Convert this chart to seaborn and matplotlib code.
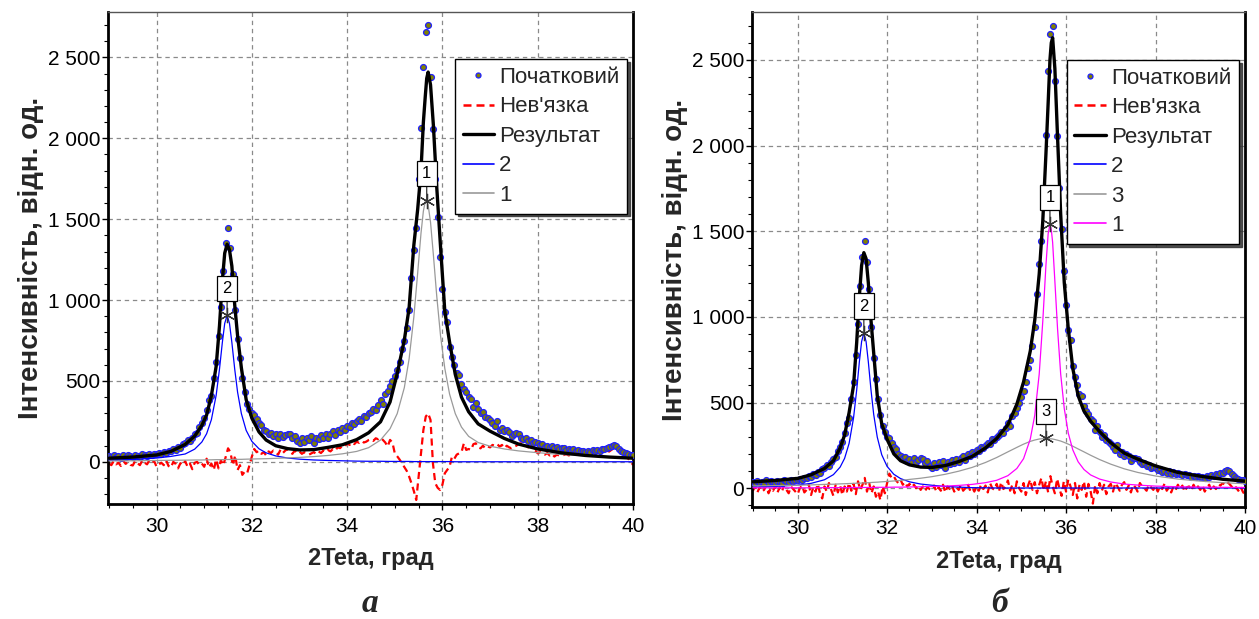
import matplotlib
matplotlib.use("Agg")
import matplotlib.pyplot as plt
import seaborn as sns
from matplotlib.ticker import MultipleLocator, FuncFormatter
from matplotlib.lines import Line2D

# ------------------------------------------------------------------ data
theta_start = 29.0
theta_step = 0.05

intensity = (
    [35, 28, 42, 30, 38, 25, 45, 33, 40, 36, 30, 44, 38, 32, 48, 40, 35, 50, 42, 46]
    + [50, 55, 48, 62, 58, 70, 66, 80, 75, 95, 88, 110, 120, 135, 130, 150, 170, 180, 215, 240]
    + [270, 320, 380, 410, 520, 620, 780, 960, 1180, 1350, 1445, 1320, 1160, 940, 760, 640, 520, 430, 360, 330]
    + [300, 290, 265, 240, 230, 200, 190, 175, 180, 160, 170, 150, 175, 155, 165, 175, 170, 145, 160, 130]
    + [120, 145, 125, 150, 135, 160, 120, 150, 140, 165, 145, 170, 150, 175, 190, 165, 200, 185, 210, 200]
    + [225, 215, 240, 235, 250, 265, 255, 285, 280, 300, 310, 330, 320, 350, 380, 360, 420, 440, 470, 500]
    + [530, 570, 620, 700, 750, 830, 938, 1136, 1309, 1444, 1750, 2062, 2438, 2654, 2697, 2377, 2056, 1750, 1512, 1265]
    + [1068, 926, 864, 712, 650, 600, 547, 537, 480, 450, 434, 403, 390, 340, 362, 330, 300, 310, 280, 270]
    + [260, 240, 225, 250, 198, 210, 190, 198, 185, 160, 175, 177, 170, 150, 140, 146, 130, 136, 120, 125]
    + [115, 105, 110, 95, 100, 90, 98, 85, 92, 80, 88, 84, 75, 82, 74, 78, 68, 72, 65, 70]
    + [64, 68, 60, 72, 66, 75, 70, 80, 78, 88, 90, 100, 105, 98, 80, 70, 60, 55, 50, 45, 43]
)

residual_a = (
    [-10, -20, 5, -15, -5, -25, 8, -12, -2, -18, -22, 6, -8, -20, 10, -5, -15, 12, -2, 4]
    + [-30, -15, -5, -20, 10, -25, -35, 0, -12, -40, -8, -20, 5, -30, -10, -45, -5, 0, -20, -10]
    + [-30, 20, -35, -10, -50, 15, -40, 10, -20, 30, 84, 60, -20, 40, -50, -20, -80, -60, -70, -20]
    + [33, 80, 60, 70, 50, 60, 40, 65, 55, 70, 60, 45, 75, 55, 70, 80, 65, 50, 70, 55]
    + [64, 50, 60, 55, 45, 53, 60, 50, 65, 55, 70, 60, 74, 65, 80, 70, 90, 85, 100, 95]
    + [115, 105, 120, 110, 125, 118, 130, 120, 125, 135, 140, 130, 146, 140, 150, 136, 120, 95, 136, 120]
    + [53, 35, 15, -8, -30, -55, -90, -132, -180, -235, -90, 60, 197, 280, 300, 259, -8, -132, -160, -173]
    + [-140, -70, -50, -29, 33, 20, 45, 53, 60, 115, 74, 80, 74, 110, 115, 90, 84, 100, 84, 95]
    + [90, 105, 100, 110, 95, 105, 85, 100, 90, 84, 95, 100, 110, 115, 105, 100, 90, 95, 80, 70]
    + [53, 60, 50, 45, 55, 40, 50, 33, 45, 40, 38, 43, 48, 40, 45, 50, 43, 48, 53, 50]
    + [53, 55, 50, 58, 60, 55, 62, 64, 58, 70, 64, 75, 85, 95, 80, 60, 43, 35, 20, 5, -19]
)

residual_b = (
    [-15, 10, -25, 5, -20, -10, 15, -30, 0, -15, 10, -25, 5, -20, 20, -10, -30, 10, -5, -20]
    + [-35, 0, 15, -25, -10, 20, -40, 5, -20, 25, -30, -60, 10, -20, 30, -10, -45, 20, -25, 15]
    + [-40, 10, -20, 30, -15, 25, -35, 40, -10, 20, 60, -20, 30, -30, 10, -50, -20, -70, 10, -30]
    + [30, 85, 60, 70, 45, 30, 50, 20, 35, 10, 25, 5, 20, 0, 15, -10, 10, -15, 5, -5]
    + [-10, 15, -20, 5, -15, 20, -25, 10, -5, 15, -20, 5, -10, 20, -15, 0, 25, -10, 5, -20]
    + [10, -15, 20, -5, 15, -25, 30, 0, -10, 25, -20, 35, -5, 10, 45, -15, 20, -30, 40, 0]
    + [-20, 30, -40, 15, 50, -10, 35, -30, 20, 60, -15, 40, -25, 70, 10, -30, 55, 0, -45, 40]
    + [-20, 50, 10, -40, 30, -60, 20, -10, 40, -50, 25, -20, -90, 15, -30, 30, -15, 20, -35, 10]
    + [25, -20, 30, 10, -15, 20, 35, -10, 15, -25, 20, 5, -20, 30, 10, 0, -15, 20, 5, -10]
    + [15, -20, 10, -5, 25, -15, 5, -25, 10, -10, 20, -5, 15, -20, 5, 10, -15, 20, -5, 10]
    + [-10, 15, -20, 5, 20, -15, 10, -5, 25, 15, 30, 20, 35, 25, 10, -10, 5, -15, 10, -20, -40]
)

theta = [round(theta_start + i * theta_step, 2) for i in range(len(intensity))]

curve_x = [29.0, 29.5, 30.0, 30.3, 30.6, 30.8, 30.95, 31.05, 31.15, 31.25,
           31.32, 31.38, 31.43, 31.48, 31.53, 31.58, 31.64, 31.7, 31.78, 31.88,
           32.0, 32.15, 32.3, 32.5, 32.75, 33.0, 33.3, 33.6, 33.9, 34.2,
           34.45, 34.7, 34.9, 35.05, 35.2, 35.3, 35.4, 35.48, 35.55, 35.6,
           35.64, 35.67, 35.7, 35.75, 35.81, 35.88, 35.96, 36.05, 36.15, 36.27,
           36.4, 36.55, 36.75, 37.0, 37.3, 37.6, 38.0, 38.5, 39.0, 39.5, 40.0]

# panel a
result_a = [23, 30, 43, 65, 108, 160, 225, 290, 410, 590,
            840, 1120, 1290, 1345, 1310, 1210, 970, 780, 580, 385,
            270, 185, 135, 100, 82, 74, 76, 90, 106, 138,
            180, 248, 370, 545, 753, 950, 1340, 1560, 1800, 2100,
            2260, 2370, 2409, 2330, 2080, 1700, 1330, 930, 740, 540,
            400, 310, 235, 190, 145, 110, 80, 56, 40, 30, 23]
peak2_a = [10, 15, 24, 34, 49, 79, 123, 174, 261, 411,
           573, 738, 856, 905, 856, 738, 573, 431, 298, 195,
           127, 81, 56, 37, 24, 17, 12, 9, 7, 5,
           4, 4, 3, 3, 3, 3, 2, 2, 2, 2,
           2, 2, 2, 2, 2, 2, 2, 2, 2, 1,
           1, 1, 1, 1, 1, 1, 1, 1, 1, 1, 1]
peak1_a = [6, 7, 9, 10, 11, 12, 12, 13, 13, 14,
           14, 14, 15, 15, 15, 15, 16, 16, 16, 17,
           18, 19, 20, 22, 25, 28, 33, 40, 50, 65,
           88, 135, 205, 298, 459, 636, 896, 1167, 1413, 1550,
           1610, 1615, 1587, 1481, 1279, 1026, 780, 577, 419, 298,
           215, 158, 120, 97, 80, 68, 57, 46, 38, 32, 27]

# panel b
result_b = [37, 45, 57, 78, 115, 160, 235, 310, 440, 600,
            850, 1120, 1300, 1375, 1340, 1200, 980, 790, 540, 375,
            285, 200, 160, 136, 123, 121, 132, 155, 185, 235,
            290, 370, 490, 620, 800, 980, 1250, 1560, 1950, 2250,
            2500, 2600, 2630, 2450, 2050, 1600, 1200, 930, 700, 540,
            450, 390, 330, 265, 205, 170, 130, 92, 70, 52, 41]
peak2_b = [6, 10, 18, 28, 49, 79, 123, 174, 261, 411,
           573, 738, 856, 905, 856, 738, 573, 431, 298, 195,
           127, 81, 56, 37, 24, 17, 10, 6, 3, 2,
           1, 1, 1, 1, 1, 1, 1, 1, 1, 1,
           1, 1, 1, 1, 1, 1, 1, 1, 1, 1,
           1, 1, 1, 1, 1, 1, 1, 1, 1, 1, 1]
peak3_b = [13, 15, 17, 19, 22, 23, 25, 26, 27, 28,
           29, 29, 30, 31, 31, 32, 33, 34, 35, 37,
           39, 42, 45, 51, 58, 67, 81, 99, 121, 150,
           179, 212, 238, 257, 273, 281, 287, 289, 290, 289,
           288, 288, 287, 284, 280, 275, 267, 257, 245, 229,
           212, 192, 167, 140, 113, 92, 71, 53, 41, 32, 26]
peak1_b = [2, 2, 2, 2, 3, 3, 3, 3, 3, 4,
           4, 4, 4, 4, 4, 4, 4, 4, 5, 5,
           5, 6, 6, 7, 8, 10, 12, 16, 22, 32,
           46, 73, 115, 172, 286, 425, 666, 975, 1300, 1486,
           1540, 1510, 1435, 1208, 930, 666, 465, 321, 224, 154,
           109, 77, 53, 36, 24, 18, 12, 8, 6, 5, 4]

label_data = "Початковий"
label_resid = "Нев'язка"
label_result = "Результат"
x_label = "2Teta, град"
y_label = "Інтенсивність, відн. од."
panel_letters = ["а", "б"]

x_ticks_step = 2
y_ticks_step = 500

# ------------------------------------------------------------------ style
sns.set_theme(style="white")
plt.rcParams["font.family"] = ["Liberation Sans", "DejaVu Sans"]

W, H = 1259, 619
fig = plt.figure(figsize=(W / 100, H / 100), dpi=100)


def fx(px):
    return px / W


def fy(py):
    return 1 - py / H


def draw_panel(ax, residual, result, comps, ylim, legend_anchor):
    # residual
    sns.lineplot(x=theta, y=residual, ax=ax, color="#ff0000", linewidth=1.6,
                 estimator=None, sort=False, legend=False, zorder=2)
    res_line = ax.get_lines()[-1]
    res_line.set_dashes([3.2, 2.0])
    # experimental points
    sns.scatterplot(x=theta, y=intensity, ax=ax, s=18, color="#808000",
                    edgecolor="#1f1fff", linewidth=0.9, legend=False, zorder=3)
    # components
    comp_lines = []
    for lbl, vals, col in comps:
        sns.lineplot(x=curve_x, y=vals, ax=ax, color=col, linewidth=0.9,
                     estimator=None, sort=False, legend=False, zorder=4)
        comp_lines.append((lbl, ax.get_lines()[-1], vals, col))
    # result
    sns.lineplot(x=curve_x, y=result, ax=ax, color="black", linewidth=2.4,
                 estimator=None, sort=False, legend=False, zorder=5)

    # peak markers with labels
    for lbl, ln, vals, col in comp_lines:
        i = max(range(len(vals)), key=lambda k: vals[k])
        px, py = curve_x[i], vals[i]
        ax.plot([px], [py], marker=(6, 2, 0), ms=11, mew=0.9, color="#333333",
                linestyle="none", zorder=7)
        ax.annotate(lbl, xy=(px, py), xytext=(0, 27), textcoords="offset pixels",
                    ha="center", va="center", fontsize=12, color="black", zorder=8,
                    bbox=dict(boxstyle="square,pad=0.32", fc="white", ec="black", lw=0.9),
                    arrowprops=dict(arrowstyle="-", color="#333333", lw=0.9,
                                    shrinkA=0, shrinkB=0))

    ax.set_xlim(28.98, 40.0)
    ax.set_ylim(*ylim)
    ax.xaxis.set_major_locator(MultipleLocator(x_ticks_step))
    ax.xaxis.set_minor_locator(MultipleLocator(0.5))
    ax.yaxis.set_major_locator(MultipleLocator(y_ticks_step))
    ax.yaxis.set_minor_locator(MultipleLocator(100))
    ax.yaxis.set_major_formatter(FuncFormatter(
        lambda v, p: f"{int(round(v)):,}".replace(",", " ")))
    ax.xaxis.set_major_formatter(FuncFormatter(lambda v, p: f"{int(round(v))}"))
    ax.grid(True, which="major", linestyle=(0, (3.5, 3)), color="#8a8a8a", linewidth=0.9)
    ax.tick_params(which="both", bottom=True, left=True, direction="out",
                   colors="black", labelcolor="black")
    ax.tick_params(which="major", length=4, width=1, labelsize=15)
    ax.tick_params(axis="y", which="major", pad=1.5)
    ax.tick_params(axis="x", which="major", pad=5)
    ax.tick_params(which="minor", length=3, width=0.8)
    for side in ["left", "bottom", "right"]:
        ax.spines[side].set_color("black")
        ax.spines[side].set_linewidth(2)
    ax.spines["top"].set_color("#555555")
    ax.spines["top"].set_linewidth(1)
    ax.set_facecolor("white")
    ax.set_xlabel(x_label, fontsize=17, fontweight="bold", labelpad=8)
    ax.set_ylabel(y_label, fontsize=20, fontweight="bold", labelpad=3)

    handles = [
        Line2D([], [], marker="o", linestyle="none", markersize=3.6,
               markerfacecolor="#808000", markeredgecolor="#1f1fff", markeredgewidth=0.9),
        Line2D([], [], color="#ff0000", linewidth=1.8, dashes=[3.2, 2.0]),
        Line2D([], [], color="black", linewidth=2.4),
    ]
    labels = [label_data, label_resid, label_result]
    for lbl, ln, vals, col in comp_lines:
        handles.append(Line2D([], [], color=col, linewidth=1.2))
        labels.append(lbl)
    leg = ax.legend(handles, labels, loc="upper right", bbox_to_anchor=legend_anchor,
                    borderaxespad=0, fontsize=16, frameon=True, fancybox=False,
                    shadow={"ox": 2, "oy": -2, "color": "#333333", "alpha": 0.85},
                    handlelength=1.4, handletextpad=0.25, labelspacing=0.38,
                    borderpad=0.35, numpoints=1)
    leg.get_frame().set_edgecolor("black")
    leg.get_frame().set_linewidth(1.0)
    leg.get_frame().set_facecolor("white")
    leg.get_frame().set_alpha(1)
    leg.set_zorder(10)


axA = fig.add_axes([fx(108), fy(504), fx(633) - fx(108), fy(12) - fy(504)])
axB = fig.add_axes([fx(752), fy(507), fx(1245) - fx(752), fy(12) - fy(507)])

draw_panel(axA, residual_a, result_a,
           [("2", peak2_a, "#0000ff"), ("1", peak1_a, "#9a9a9a")],
           (-260, 2780), (0.989, 0.904))
draw_panel(axB, residual_b, result_b,
           [("2", peak2_b, "#0000ff"), ("3", peak3_b, "#9a9a9a"), ("1", peak1_b, "#ff00ff")],
           (-110, 2780), (0.988, 0.903))

for letter, cx in zip(panel_letters, [370, 1000]):
    fig.text(fx(cx), fy(604), letter, ha="center", va="center", fontsize=24,
             fontweight="bold", fontstyle="italic",
             family=["Liberation Serif", "DejaVu Serif"])

fig.savefig("out.png", dpi=100, facecolor="white")
